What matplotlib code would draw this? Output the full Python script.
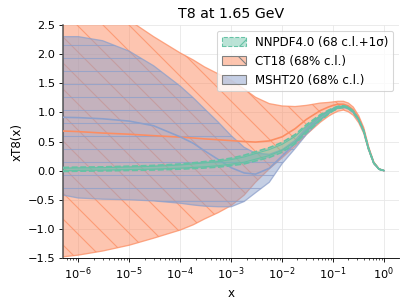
"""
T8 comparison plot, NNPDF4.0 vs CT18 vs MSHT20 at 1.65 GeV
"""

import matplotlib
matplotlib.use('Agg')
import matplotlib.pyplot as plt
from matplotlib.patches import Patch

# Data
x = [5e-7, 1e-6, 3e-6, 1e-5, 3e-5, 1e-4, 1.8e-4, 3e-4, 5.6e-4, 1e-3,
     1.8e-3, 3e-3, 5.6e-3, 1e-2, 1.8e-2, 3e-2, 5.6e-2, 8e-2, 0.1, 0.125,
     0.16, 0.2, 0.25, 0.32, 0.4, 0.5, 0.63, 0.8, 1.0]

# NNPDF4.0: 68 c.l. band (dashed) and 1 sigma band (solid)
nn_up68 = [0.055, 0.06, 0.065, 0.077, 0.09, 0.115, 0.135, 0.155, 0.18, 0.215,
           0.265, 0.325, 0.395, 0.485, 0.62, 0.79, 0.96, 1.035, 1.075, 1.105,
           1.115, 1.095, 1.022, 0.88, 0.69, 0.378, 0.135, 0.027, 0.0]
nn_lo68 = [-0.015, -0.01, -0.005, 0.003, 0.01, 0.025, 0.035, 0.045, 0.06, 0.085,
           0.115, 0.165, 0.225, 0.315, 0.46, 0.65, 0.86, 0.965, 1.025, 1.065,
           1.085, 1.065, 0.998, 0.86, 0.67, 0.362, 0.125, 0.023, 0.0]
nn_up1s = [0.041, 0.046, 0.051, 0.062, 0.074, 0.097, 0.115, 0.133, 0.156, 0.189,
           0.235, 0.293, 0.361, 0.451, 0.588, 0.762, 0.94, 1.021, 1.065, 1.097,
           1.109, 1.089, 1.017, 0.876, 0.686, 0.375, 0.133, 0.026, 0.0]
nn_lo1s = [-0.001, 0.004, 0.009, 0.018, 0.026, 0.043, 0.055, 0.067, 0.084, 0.111,
           0.145, 0.197, 0.259, 0.349, 0.492, 0.678, 0.88, 0.979, 1.035, 1.073,
           1.091, 1.071, 1.003, 0.864, 0.674, 0.365, 0.127, 0.024, 0.0]

# CT18
ct_cen = [0.68, 0.67, 0.645, 0.625, 0.60, 0.575, 0.56, 0.545, 0.53, 0.515,
          0.50, 0.49, 0.51, 0.58, 0.72, 0.88, 1.03, 1.09, 1.12, 1.14,
          1.14, 1.11, 1.04, 0.90, 0.70, 0.385, 0.14, 0.028, 0.0]
ct_up = [3.3, 3.15, 2.87, 2.58, 2.3, 2.02, 1.9, 1.78, 1.66, 1.55,
         1.40, 1.26, 1.15, 1.11, 1.10, 1.12, 1.16, 1.17, 1.18, 1.19,
         1.19, 1.16, 1.09, 0.94, 0.74, 0.405, 0.148, 0.03, 0.0]
ct_lo = [-1.48, -1.45, -1.38, -1.28, -1.16, -1.02, -0.93, -0.83, -0.72, -0.60,
         -0.42, -0.20, 0.03, 0.22, 0.42, 0.62, 0.83, 0.93, 0.98, 1.02,
         1.04, 1.01, 0.95, 0.82, 0.64, 0.35, 0.12, 0.022, 0.0]

# MSHT20
ms_cen = [0.915, 0.91, 0.89, 0.85, 0.77, 0.58, 0.47, 0.34, 0.19, 0.05,
          -0.04, -0.06, 0.04, 0.25, 0.47, 0.70, 0.92, 1.01, 1.05, 1.085,
          1.10, 1.08, 1.01, 0.87, 0.68, 0.37, 0.13, 0.025, 0.0]
ms_up = [2.30, 2.30, 2.23, 2.05, 1.80, 1.45, 1.25, 1.06, 0.83, 0.60,
         0.40, 0.30, 0.28, 0.36, 0.52, 0.74, 0.94, 1.03, 1.07, 1.10,
         1.11, 1.09, 1.02, 0.88, 0.69, 0.375, 0.132, 0.026, 0.0]
ms_lo = [-0.42, -0.47, -0.49, -0.50, -0.52, -0.56, -0.59, -0.61, -0.62, -0.62,
         -0.53, -0.38, -0.20, 0.12, 0.38, 0.62, 0.86, 0.97, 1.03, 1.07,
         1.08, 1.06, 0.99, 0.855, 0.67, 0.365, 0.128, 0.024, 0.0]

xticks = [1e-6, 1e-5, 1e-4, 1e-3, 1e-2, 1e-1, 1.0]
yticks = [-1.5, -1.0, -0.5, 0.0, 0.5, 1.0, 1.5, 2.0, 2.5]

# Colours (Set2)
c_nn = '#66c2a5'
c_ct = '#fc8d62'
c_ms = '#8da0cb'

plt.rcParams['xtick.labelsize'] = 10.5
plt.rcParams['ytick.labelsize'] = 10.5

fig = plt.figure(figsize=(407 / 78, 303 / 78), dpi=78)
ax = fig.add_axes([0.155, 0.1485, 0.826, 0.769])

ax.grid(True, color='#e8e8e8', lw=0.8, zorder=0)
ax.set_axisbelow(True)

# CT18
ax.fill_between(x, ct_lo, ct_up, facecolor=c_ct, alpha=0.5, lw=0, zorder=1)
ax.fill_between(x, ct_lo, ct_up, facecolor='none', edgecolor=c_ct, hatch='\\',
                lw=1.2, alpha=0.75, zorder=1)
ax.plot(x, ct_cen, color=c_ct, lw=1.5, zorder=3)

# MSHT20
ax.fill_between(x, ms_lo, ms_up, facecolor=c_ms, alpha=0.5, lw=0, zorder=2)
ax.fill_between(x, ms_lo, ms_up, facecolor='none', edgecolor=c_ms, hatch='-',
                lw=1.2, alpha=0.75, zorder=2)
ax.plot(x, ms_cen, color=c_ms, lw=1.5, zorder=3)

# NNPDF4.0
ax.fill_between(x, nn_lo68, nn_up68, facecolor=c_nn, alpha=0.5, lw=0, zorder=4)
ax.plot(x, nn_up68, color=c_nn, lw=1.5, ls='--', zorder=5)
ax.plot(x, nn_lo68, color=c_nn, lw=1.5, ls='--', zorder=5)
ax.plot(x, nn_up1s, color=c_nn, lw=1.0, zorder=5)
ax.plot(x, nn_lo1s, color=c_nn, lw=1.0, zorder=5)

ax.set_xscale('log')
ax.set_xlim(10 ** -6.3, 10 ** 0.3)
ax.set_xticks(xticks)
ax.set_ylim(-1.5, 2.5)
ax.set_yticks(yticks)
ax.set_xlabel('x', fontsize=11)
ax.set_ylabel('xT8(x)', fontsize=11)
ax.set_title('T8 at 1.65 GeV', fontsize=13)

ax.spines['top'].set_visible(False)
ax.spines['right'].set_visible(False)
ax.spines['left'].set_color('#555555')
ax.spines['left'].set_linewidth(1.4)

handles = [
    Patch(facecolor=(0.4, 0.76, 0.65, 0.45), edgecolor=c_nn, ls='--', hatch='/'),
    Patch(facecolor=(0.99, 0.55, 0.38, 0.5), edgecolor='gray', hatch='\\'),
    Patch(facecolor=(0.55, 0.63, 0.8, 0.5), edgecolor='gray'),
]
labels = ['NNPDF4.0 (68 c.l.+1σ)', 'CT18 (68% c.l.)', 'MSHT20 (68% c.l.)']
ax.legend(handles, labels, loc='upper right', fontsize=11)

fig.savefig('out.png', dpi=78)
